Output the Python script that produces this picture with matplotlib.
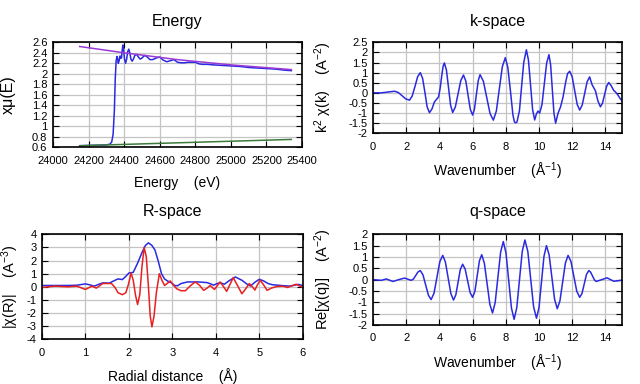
import matplotlib
matplotlib.use("Agg")
import matplotlib.pyplot as plt
from matplotlib.ticker import MultipleLocator, FormatStrFormatter

plt.rcParams['font.family'] = ['Liberation Sans', 'DejaVu Sans']
plt.rcParams['mathtext.fontset'] = 'custom'
plt.rcParams['mathtext.rm'] = 'Liberation Sans'
plt.rcParams['mathtext.it'] = 'Liberation Sans'
plt.rcParams['axes.unicode_minus'] = False

# ---------------- Energy panel data ----------------
energy_x = [24150, 24200, 24250, 24300, 24320, 24330, 24338, 24345, 24350, 24355,
            24360, 24363, 24367, 24372, 24377, 24381, 24385, 24389, 24393, 24397,
            24402, 24408, 24414, 24420, 24426, 24432, 24438, 24445, 24452, 24460,
            24470, 24480, 24490, 24500, 24515, 24530, 24545, 24560, 24580, 24600,
            24620, 24640, 24660, 24680, 24700, 24720, 24740, 24760, 24780, 24800,
            24820, 24840, 24870, 24900, 24950, 25000, 25050, 25100, 25150, 25200,
            25250, 25300, 25340]
energy_mu = [0.63, 0.635, 0.64, 0.645, 0.66, 0.70, 0.85, 1.30, 1.90, 2.25,
             2.33, 2.30, 2.20, 2.25, 2.34, 2.30, 2.30, 2.45, 2.55, 2.45,
             2.28, 2.20, 2.28, 2.42, 2.47, 2.40, 2.28, 2.24, 2.28, 2.35,
             2.37, 2.32, 2.28, 2.30, 2.35, 2.32, 2.27, 2.27, 2.30, 2.32,
             2.26, 2.23, 2.25, 2.27, 2.22, 2.21, 2.21, 2.22, 2.22, 2.22,
             2.19, 2.18, 2.18, 2.17, 2.16, 2.15, 2.14, 2.12, 2.11, 2.10,
             2.09, 2.07, 2.06]
post_x = [24150, 24400, 24700, 25000, 25340]
post_y = [2.52, 2.40, 2.27, 2.17, 2.08]
pre_x = [24150, 25340]
pre_y = [0.63, 0.75]

# ---------------- k-space data ----------------
k_x = [0.0, 0.5, 1.0, 1.3, 1.525, 1.75, 1.975, 2.2, 2.36, 2.53, 2.69, 2.85,
       2.99, 3.13, 3.26, 3.4, 3.55, 3.7, 3.85, 3.95, 4.05, 4.15, 4.22, 4.3,
       4.425, 4.55, 4.675, 4.8, 4.96, 5.125, 5.29, 5.45, 5.59, 5.725, 5.86, 6.0,
       6.11, 6.225, 6.34, 6.45, 6.65, 6.85, 7.05, 7.25, 7.43, 7.61, 7.79, 7.97,
       8.12, 8.275, 8.43, 8.52, 8.58, 8.67, 8.82, 8.95, 9.08, 9.24,
       9.365, 9.49, 9.615, 9.74, 9.84, 9.94, 10.04, 10.18, 10.32, 10.46, 10.6,
       10.7, 10.8, 10.9, 11.0, 11.15, 11.3, 11.45, 11.6, 11.72, 11.85,
       12.0, 12.15, 12.3, 12.45, 12.6, 12.75, 12.9, 13.05, 13.2, 13.3, 13.4,
       13.55, 13.7, 13.825, 13.95, 14.075, 14.2, 14.35, 14.5, 14.6, 14.75, 14.9, 15.0]
k_chi = [0.0, 0.0, 0.05, 0.08, 0.016, -0.14, -0.30, -0.36, -0.16, 0.32, 0.80, 1.0,
         0.71, 0.01, -0.69, -0.98, -0.80, -0.45, -0.30, -0.20, 0.25, 0.90, 1.30, 1.48,
         1.12, 0.255, -0.61, -0.97, -0.70, -0.045, 0.61, 0.88, 0.59, -0.11, -0.81, -1.10,
         -0.81, -0.10, 0.61, 0.90, 0.57, -0.225, -1.02, -1.35, -0.90, 0.195, 1.29, 1.74,
         1.27, 0.13, -1.10, -1.44, -1.48, -1.45, -0.90, 0.30, 1.50, 2.13,
         1.62, 0.395, -0.83, -1.34, -1.05, -0.90, -1.00, -0.58, 0.445, 1.47, 1.89,
         1.39, 0.195, -1.00, -1.50, -1.00, -0.69, -0.20, 0.50, 0.95, 1.07,
         0.79, 0.11, -0.57, -0.85, -0.61, -0.03, 0.55, 0.79, 0.40, 0.25, 0.10,
         -0.40, -0.69, -0.51, -0.09, 0.33, 0.51, 0.35, 0.12, 0.05, -0.10, -0.30, -0.38]

# ---------------- R-space data ----------------
r_mag_x = [0.0, 0.3, 0.6, 0.8, 1.0, 1.1, 1.2, 1.3, 1.4, 1.55, 1.65, 1.75, 1.85, 1.93,
           2.0, 2.1, 2.2, 2.3, 2.38, 2.45, 2.53, 2.6, 2.68, 2.75, 2.82, 2.9, 2.98,
           3.05, 3.12, 3.2, 3.35, 3.6, 3.8, 3.9, 3.95, 4.03, 4.1, 4.2, 4.3, 4.45,
           4.6, 4.72, 4.8, 4.9, 5.0, 5.1, 5.2, 5.3, 5.5, 5.7, 5.9, 6.0]
r_mag = [0.1, 0.1, 0.1, 0.12, 0.22, 0.15, 0.05, 0.18, 0.3, 0.28, 0.45, 0.6, 0.55, 0.8,
         1.05, 1.1, 1.8, 2.6, 3.15, 3.35, 3.15, 2.8, 1.9, 1.0, 0.6, 0.42, 0.3,
         0.1, 0.08, 0.25, 0.37, 0.37, 0.32, 0.2, 0.12, 0.25, 0.3, 0.2, 0.45, 0.75,
         0.5, 0.2, 0.06, 0.35, 0.57, 0.45, 0.25, 0.16, 0.1, 0.05, 0.18, 0.1]
r_re_x = [0.0, 0.3, 0.6, 0.8, 1.0, 1.15, 1.25, 1.4, 1.6, 1.68, 1.75, 1.85, 1.93, 1.99,
          2.05, 2.1, 2.15, 2.2, 2.25, 2.3, 2.35, 2.4, 2.45, 2.49, 2.53, 2.58, 2.63,
          2.7, 2.76, 2.82, 2.88, 2.95, 3.02, 3.1, 3.2, 3.3, 3.42, 3.53, 3.63, 3.72,
          3.8, 3.87, 3.97, 4.1, 4.18, 4.25, 4.33, 4.4, 4.5, 4.6, 4.7, 4.77, 4.84,
          4.9, 4.95, 5.02, 5.1, 5.18, 5.28, 5.4, 5.55, 5.65, 5.85, 6.0]
r_re = [-0.05, 0.05, 0.0, 0.05, -0.2, 0.05, -0.1, 0.25, 0.25, -0.05, -0.45, -0.6, -0.45, 0.2,
        1.05, 0.5, -0.6, -1.35, -0.6, 1.5, 3.0, 2.3, 0.0, -2.2, -3.05, -2.2, -0.5,
        1.0, 0.5, 0.1, 0.25, 0.45, 0.15, -0.15, -0.3, -0.3, 0.1, 0.37, 0.1, -0.27,
        -0.1, 0.1, -0.2, 0.37, 0.0, -0.35, 0.2, 0.7, 0.1, -0.53, -0.1, 0.25, 0.0,
        -0.25, 0.1, 0.5, 0.15, -0.27, -0.1, 0.02, 0.05, -0.05, 0.2, -0.05]

# ---------------- q-space data ----------------
q_x = [0.0, 0.25, 0.5, 0.65, 0.8, 1.0, 1.2, 1.55, 1.9, 2.1, 2.3, 2.44, 2.575, 2.71,
       2.85, 3.01, 3.175, 3.34, 3.5, 3.675, 3.85, 4.025, 4.2, 4.36, 4.525, 4.69,
       4.85, 4.99, 5.125, 5.26, 5.4, 5.55, 5.7, 5.85, 6.0, 6.14, 6.275, 6.41,
       6.55, 6.71, 6.875, 7.04, 7.2, 7.36, 7.525, 7.69, 7.85, 8.01, 8.175, 8.34,
       8.5, 8.66, 8.825, 8.99, 9.15, 9.325, 9.5, 9.675, 9.85, 10.0, 10.15, 10.3,
       10.45, 10.61, 10.775, 10.94, 11.1, 11.26, 11.425, 11.59, 11.75, 11.925,
       12.1, 12.275, 12.45, 12.59, 12.725, 12.86, 13.0, 13.11, 13.225, 13.34,
       13.45, 13.775, 14.1, 14.3, 14.5, 14.75, 15.0]
q_re = [0.0, -0.015, -0.03, 0.0, 0.03, -0.025, -0.08, 0.0, 0.07, 0.02, -0.03, 0.03, 0.185, 0.34,
        0.40, 0.21, -0.24, -0.69, -0.88, -0.60, 0.095, 0.79, 1.07, 0.78, 0.085, -0.61,
        -0.90, -0.67, -0.11, 0.45, 0.68, 0.47, -0.05, -0.57, -0.78, -0.51, 0.16, 0.83,
        1.10, 0.72, -0.185, -1.09, -1.47, -1.01, 0.105, 1.22, 1.68, 1.18, -0.035, -1.25,
        -1.75, -1.24, 0.0, 1.24, 1.75, 1.25, 0.025, -1.20, -1.70, -1.23, -0.10, 1.03,
        1.50, 1.09, 0.11, -0.87, -1.28, -0.94, -0.105, 0.73, 1.07, 0.80,
        0.145, -0.51, -0.78, -0.61, -0.19, 0.23, 0.40, 0.33, 0.16, -0.01,
        -0.08, 0.0, 0.08, 0.005, -0.07, -0.05, -0.02]

BLUE = '#2a2ae0'
PURPLE = '#9a3ad6'
GREEN = '#3c7a3c'
RED = '#e82020'

fig = plt.figure(figsize=(6.4, 3.84), dpi=100)
W, H = 640.0, 384.0

def make_ax(left, top, right, bottom):
    return fig.add_axes([left / W, 1 - bottom / H, (right - left) / W, (bottom - top) / H])

ax_e = make_ax(53, 42.3, 302, 147.3)
ax_k = make_ax(373, 42.3, 622, 133.3)
ax_r = make_ax(42, 234.3, 302.7, 339.3)
ax_q = make_ax(373, 234.3, 622, 325)

def style(ax):
    ax.grid(True, color='#c4c4c4', lw=0.9)
    ax.set_axisbelow(True)
    ax.tick_params(direction='in', length=4, width=0.8, top=True, right=True,
                   labelsize=8, pad=4, colors='black')
    ax.tick_params(axis='x', pad=6)
    for s in ax.spines.values():
        s.set_linewidth(1.2)
        s.set_color('black')
    ax.yaxis.set_major_formatter(FormatStrFormatter('%g'))
    ax.xaxis.set_major_formatter(FormatStrFormatter('%g'))

YL = 10.5
XL = 10

# Energy
ax_e.plot(energy_x, energy_mu, color=BLUE, lw=1.1)
ax_e.plot(post_x, post_y, color=PURPLE, lw=1.1)
ax_e.plot(pre_x, pre_y, color=GREEN, lw=1.1)
ax_e.set_xlim(24000, 25400)
ax_e.set_ylim(0.6, 2.6)
ax_e.xaxis.set_major_locator(MultipleLocator(200))
ax_e.yaxis.set_major_locator(MultipleLocator(0.2))
style(ax_e)
ax_e.set_title('Energy', fontsize=11.5, pad=12)
ax_e.set_xlabel('Energy    (eV)', fontsize=XL)
ax_e.set_ylabel('xμ(E)', fontsize=11.5)
ax_e.xaxis.set_label_coords(0.5, -0.27)
ax_e.yaxis.set_label_coords(-0.15, 0.5)

# k-space
ax_k.plot(k_x, k_chi, color=BLUE, lw=1.1)
ax_k.set_xlim(0, 15)
ax_k.set_ylim(-2, 2.5)
ax_k.xaxis.set_major_locator(MultipleLocator(2))
ax_k.yaxis.set_major_locator(MultipleLocator(0.5))
style(ax_k)
ax_k.set_title('k-space', fontsize=11.5, pad=12)
ax_k.set_xlabel('Wavenumber    (Å$^{-1}$)', fontsize=XL)
ax_k.set_ylabel('k$^{2}$ χ(k)    (A$^{-2}$)', fontsize=YL)
ax_k.xaxis.set_label_coords(0.5, -0.30)
ax_k.yaxis.set_label_coords(-0.155, 0.5)

# R-space
ax_r.plot(r_mag_x, r_mag, color=BLUE, lw=1.1)
ax_r.plot(r_re_x, r_re, color=RED, lw=1.1)
ax_r.set_xlim(0, 6)
ax_r.set_ylim(-4, 4)
ax_r.xaxis.set_major_locator(MultipleLocator(1))
ax_r.yaxis.set_major_locator(MultipleLocator(1))
style(ax_r)
ax_r.set_title('R-space', fontsize=11.5, pad=13)
ax_r.set_xlabel('Radial distance    (Å)', fontsize=XL)
ax_r.set_ylabel('|χ(R)|    (A$^{-3}$)', fontsize=YL)
ax_r.xaxis.set_label_coords(0.5, -0.27)
ax_r.yaxis.set_label_coords(-0.08, 0.5)

# q-space
ax_q.plot(q_x, q_re, color=BLUE, lw=1.1)
ax_q.set_xlim(0, 15)
ax_q.set_ylim(-2, 2)
ax_q.xaxis.set_major_locator(MultipleLocator(2))
ax_q.yaxis.set_major_locator(MultipleLocator(0.5))
style(ax_q)
ax_q.set_title('q-space', fontsize=11.5, pad=13)
ax_q.set_xlabel('Wavenumber    (Å$^{-1}$)', fontsize=XL)
ax_q.set_ylabel('Re[χ(q)]    (A$^{-2}$)', fontsize=YL)
ax_q.xaxis.set_label_coords(0.5, -0.31)
ax_q.yaxis.set_label_coords(-0.155, 0.5)

fig.savefig('out.png', dpi=100)
